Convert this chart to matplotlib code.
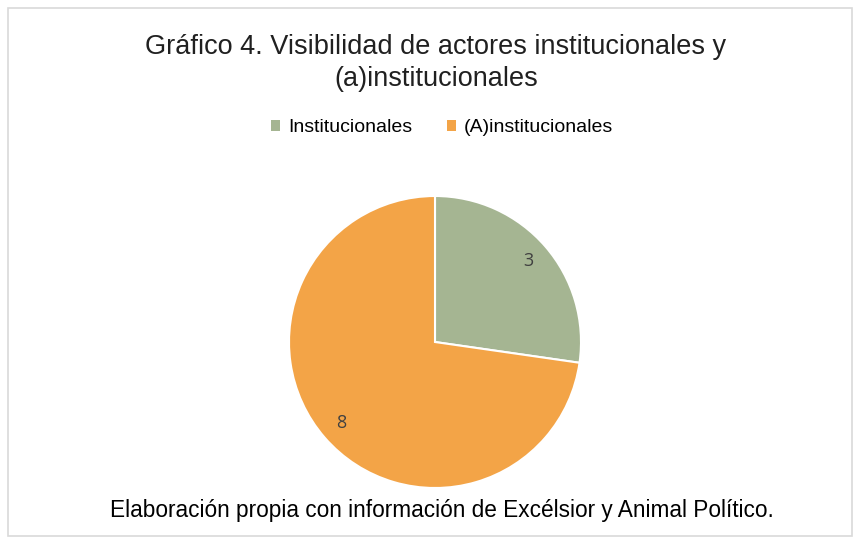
import matplotlib
matplotlib.use('Agg')
from matplotlib import pyplot as plt
from matplotlib.patches import Rectangle
import numpy as np

categories = ['Institucionales', '(A)institucionales']
values = [3, 8]
colors = ['#A5B592', '#F3A447']

title = 'Gráfico 4. Visibilidad de actores institucionales y\n(a)institucionales'
caption = 'Elaboración propia con información de Excélsior y Animal Político.'

fig = plt.figure(figsize=(8.6, 5.44), dpi=100)
fig.patch.set_facecolor('white')

# frame round the chart
fig.add_artist(Rectangle((8/860, 8/544), 844/860, 528/544, transform=fig.transFigure,
                         fill=False, edgecolor='#D9D9D9', linewidth=1.2))

# pie area: center (435, 342), radius ~146 px
R = 146
ax = fig.add_axes([(435 - R)/860, (544 - 342 - R)/544, 2*R/860, 2*R/544])
wedges, texts = ax.pie(values, colors=colors, startangle=90, counterclock=False,
                       radius=1.0, wedgeprops=dict(edgecolor='white', linewidth=1.5))
for w, v in zip(wedges, values):
    ang = np.deg2rad((w.theta1 + w.theta2) / 2)
    ax.text(0.85*np.cos(ang), 0.85*np.sin(ang), str(v), ha='center', va='center',
            fontsize=13, color='#404040', family='Open Sans')
ax.set_xlim(-1, 1)
ax.set_ylim(-1, 1)
ax.set_aspect('equal')
ax.axis('off')

fig.text(436/860, 1 - 63/544, title, ha='center', va='center', fontsize=19.5,
         family='Liberation Sans', color='#202020', linespacing=1.28)

# legend
leg = fig.legend(wedges, categories, loc='center', bbox_to_anchor=(442/860, 1 - 128/544),
                 ncol=2, frameon=False, handlelength=0.45, handleheight=0.45,
                 handletextpad=0.4, columnspacing=1.8,
                 prop={'family': 'Liberation Sans', 'size': 14})
for h in leg.legend_handles:
    h.set_edgecolor('none')

fig.text(442/860, 1 - 510/544, caption, ha='center', va='center', fontsize=16.3,
         family='Liberation Sans', color='#000000')

fig.savefig('out.png', dpi=100, facecolor='white')
